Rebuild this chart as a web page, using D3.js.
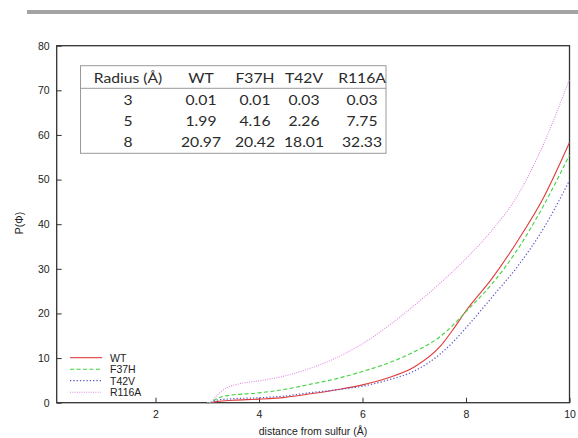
<!DOCTYPE html>
<meta charset="utf-8">
<html>
<head>
    <title>P(phi) vs distance</title>
    <style>
        body { margin: 0; background: #fff; }
        text { font-family: "Liberation Sans", Arial, sans-serif; fill: #222; }
        .tbl text { font-family: Lato, "Open Sans", sans-serif; fill: #2a2a2a; }
    </style>
</head>
<body>
<script src="https://cdnjs.cloudflare.com/ajax/libs/d3/7.8.5/d3.min.js"></script>
<script>
    // 曲線データ
    var seriesNames = ["WT", "F37H", "T42V", "R116A"];
    var xWT = [3.0, 3.05, 3.2, 3.5, 4.0, 4.5, 5.0, 5.5, 6.0, 6.5, 7.0, 7.5, 7.75, 8.0, 8.5, 9.0, 9.5, 10.0];
    var yWT = [0, 0.01, 0.3, 0.55, 0.8, 1.2, 1.99, 2.9, 4.0, 5.6, 8.0, 12.6, 16.4, 20.6, 27.8, 36.3, 46.0, 58.3];
    var xF37H = [3.0, 3.05, 3.2, 3.4, 4.0, 4.5, 5.0, 5.5, 6.0, 6.5, 7.0, 7.5, 7.75, 8.0, 8.5, 9.0, 9.5, 10.0];
    var yF37H = [0, 0.01, 1.0, 1.6, 2.2, 3.0, 4.16, 5.4, 7.0, 8.9, 11.4, 14.8, 17.4, 20.42, 26.6, 34.4, 44.2, 55.5];
    var xT42V = [3.0, 3.05, 3.2, 3.5, 4.0, 4.5, 5.0, 5.5, 6.0, 6.5, 7.0, 7.5, 7.75, 8.0, 8.5, 9.0, 9.5, 10.0];
    var yT42V = [0, 0.03, 0.6, 0.9, 1.1, 1.5, 2.26, 2.9, 3.7, 5.1, 7.1, 10.9, 13.6, 16.8, 23.6, 30.6, 39.1, 49.8];
    var xR116A = [3.0, 3.05, 3.15, 3.3, 3.45, 3.6, 4.0, 4.5, 5.0, 5.5, 6.0, 6.5, 7.0, 7.5, 8.0, 8.5, 9.0, 9.5, 10.0];
    var yR116A = [0, 0.03, 1.2, 2.8, 3.7, 4.2, 4.9, 6.0, 7.75, 10.1, 13.2, 17.2, 21.8, 26.8, 32.3, 38.6, 46.5, 58.0, 72.5];

    // 表データ
    var tableHeader = ["Radius (Å)", "WT", "F37H", "T42V", "R116A"];
    var tableRadius = ["3", "5", "8"];
    var tableWT = ["0.01", "1.99", "20.97"];
    var tableF37H = ["0.01", "4.16", "20.42"];
    var tableT42V = ["0.03", "2.26", "18.01"];
    var tableR116A = ["0.03", "7.75", "32.33"];

    var xTicks = [2, 4, 6, 8, 10];
    var yTicks = [0, 10, 20, 30, 40, 50, 60, 70, 80];

    var W = 578, H = 438;
    var mLeft = 56.7, mRight = 569.5, mTop = 45.7, mBottom = 402.7;

    var svg = d3.select("body").append("svg")
        .attr("width", W)
        .attr("height", H);

    // 上部の灰色バー
    svg.append("rect")
        .attr("x", 27).attr("y", 10)
        .attr("width", W - 27).attr("height", 4)
        .attr("fill", "#a3a3a3");

    var x = d3.scaleLinear().domain([0.09, 10]).range([mLeft, mRight]);
    var y = d3.scaleLinear().domain([0, 80]).range([mBottom, mTop]);

    // 目盛り（内向き）
    svg.append("g")
        .attr("transform", "translate(0," + mBottom + ")")
        .call(d3.axisBottom(x).tickValues(xTicks).tickSize(-5).tickPadding(8))
        .call(function (g) {
            g.select(".domain").remove();
            g.selectAll("line").attr("stroke", "#333");
            g.selectAll("text").attr("font-size", 10.5).attr("font-family", "Liberation Sans");
        });
    svg.append("g")
        .attr("transform", "translate(" + mLeft + ",0)")
        .call(d3.axisLeft(y).tickValues(yTicks).tickSize(-5).tickPadding(7))
        .call(function (g) {
            g.select(".domain").remove();
            g.selectAll("line").attr("stroke", "#333");
            g.selectAll("text").attr("font-size", 10.5).attr("font-family", "Liberation Sans");
        });

    // 枠
    svg.append("rect")
        .attr("x", mLeft).attr("y", mTop)
        .attr("width", mRight - mLeft).attr("height", mBottom - mTop)
        .attr("fill", "none")
        .attr("stroke", "#333")
        .attr("stroke-width", 1.3);

    // 軸ラベル
    svg.append("text")
        .attr("x", 313).attr("y", 435)
        .attr("text-anchor", "middle")
        .attr("font-size", 10.5)
        .text("distance from sulfur (Å)");
    svg.append("text")
        .attr("transform", "translate(23,223) rotate(-90)")
        .attr("text-anchor", "middle")
        .attr("font-size", 10.5)
        .text("P(Φ)");

    // 系列
    var series = [
        { name: "WT", xs: xWT, ys: yWT, color: "#e23a3a", dash: null, w: 1.1 },
        { name: "F37H", xs: xF37H, ys: yF37H, color: "#3fd43f", dash: "4,2.5", w: 1.1 },
        { name: "T42V", xs: xT42V, ys: yT42V, color: "#5a5ac8", dash: "1.3,2", w: 1.2 },
        { name: "R116A", xs: xR116A, ys: yR116A, color: "#e08ae0", dash: "1,1.3", w: 1.1 }
    ];

    var line = d3.line()
        .x(function (d) { return x(d[0]); })
        .y(function (d) { return y(d[1]); })
        .curve(d3.curveMonotoneX);

    svg.selectAll("path.series")
        .data(series)
        .enter()
        .append("path")
        .attr("class", "series")
        .attr("d", function (s) { return line(d3.zip(s.xs, s.ys)); })
        .attr("fill", "none")
        .attr("stroke", function (s) { return s.color; })
        .attr("stroke-width", function (s) { return s.w; })
        .attr("stroke-dasharray", function (s) { return s.dash; });

    // 凡例
    var leg = svg.append("g");
    series.forEach(function (s, i) {
        var ly = 357.7 + i * 11.5;
        leg.append("line")
            .attr("x1", 70).attr("x2", 102)
            .attr("y1", ly).attr("y2", ly)
            .attr("stroke", s.color)
            .attr("stroke-width", s.w)
            .attr("stroke-dasharray", s.dash);
        leg.append("text")
            .attr("x", 110).attr("y", ly + 3.8)
            .attr("font-size", 10.5)
            .text(s.name);
    });

    // 表
    var tbl = svg.append("g").attr("class", "tbl");
    tbl.append("rect")
        .attr("x", 80.5).attr("y", 65.7)
        .attr("width", 305.5).attr("height", 87.6)
        .attr("fill", "#fff")
        .attr("stroke", "#999")
        .attr("stroke-width", 1);
    tbl.append("line")
        .attr("x1", 80.5).attr("x2", 386)
        .attr("y1", 88.3).attr("y2", 88.3)
        .attr("stroke", "#999");

    var colX = [128, 201, 255, 304, 362];
    var rowY = [78, 100, 121, 142];
    var rows = [tableHeader].concat(tableRadius.map(function (r, i) {
        return [r, tableWT[i], tableF37H[i], tableT42V[i], tableR116A[i]];
    }));
    rows.forEach(function (row, ri) {
        row.forEach(function (cell, ci) {
            tbl.append("text")
                .attr("transform", "translate(" + colX[ci] + "," + rowY[ri] + ") scale(1.12,1)")
                .attr("dy", "0.36em")
                .attr("text-anchor", "middle")
                .attr("font-size", 14)
                .text(cell);
        });
    });
</script>
</body>
</html>
